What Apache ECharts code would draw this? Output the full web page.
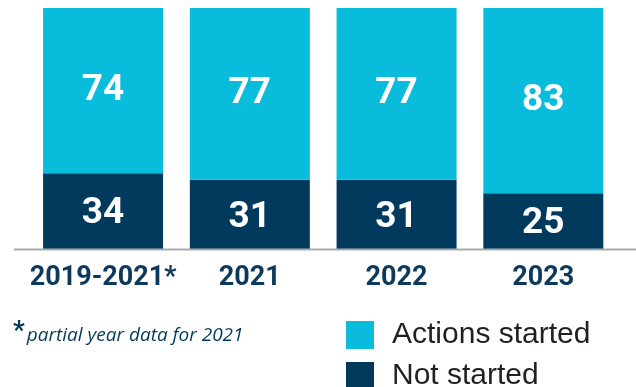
<!DOCTYPE html>
<html>
<head>
<meta charset="utf-8">
<script src="https://cdn.jsdelivr.net/npm/echarts@6/dist/echarts.min.js"></script>
<style>
  html, body { margin: 0; padding: 0; background: #ffffff; }
  #chart { width: 636px; height: 387px; }
</style>
</head>
<body>
<div id="chart"></div>
<script>
// Action status by reporting period
const categories = ['2019-2021*', '2021', '2022', '2023'];
const notStarted = [34, 31, 31, 25];
const actionsStarted = [74, 77, 77, 83];
const seriesNames = ['Actions started', 'Not started'];
const footnote = 'partial year data for 2021';

const CYAN = '#09bcdc';
const NAVY = '#013a5c';

const chart = echarts.init(document.getElementById('chart'), null, { renderer: 'canvas' });

function valueLabel(dy) {
  return {
    show: true,
    position: 'inside',
    offset: [0, dy],
    color: '#ffffff',
    fontFamily: 'Roboto',
    fontWeight: 'bold',
    fontSize: 37
  };
}

chart.setOption({
  animation: false,
  backgroundColor: '#ffffff',
  grid: { left: 29.7, width: 587, top: 8, height: 241, containLabel: false },
  xAxis: {
    type: 'category',
    data: categories,
    axisLine: { show: false },
    axisTick: { show: false },
    axisLabel: {
      interval: 0,
      color: '#0d3a5c',
      fontFamily: 'Roboto',
      fontWeight: 'bold',
      fontSize: 27,
      margin: 16
    }
  },
  yAxis: {
    type: 'value',
    min: 0,
    max: 108,
    show: false,
    splitLine: { show: false }
  },
  legend: {
    orient: 'vertical',
    left: 346,
    top: 320,
    height: 120,
    padding: 0,
    itemWidth: 28,
    itemHeight: 28,
    itemGap: 11,
    icon: 'rect',
    data: seriesNames,
    textStyle: {
      color: '#231f20',
      fontFamily: 'Liberation Sans',
      fontSize: 30,
      padding: [0, 0, 0, 13]
    }
  },
  title: {
    left: 13,
    top: 319,
    padding: 0,
    text: '{a|*}{b|' + footnote + '}',
    textStyle: {
      rich: {
        a: { color: NAVY, fontFamily: 'Roboto', fontWeight: 'bold', fontSize: 26, verticalAlign: 'top' },
        b: { color: NAVY, fontFamily: 'Open Sans', fontStyle: 'italic', fontWeight: 'normal', fontSize: 19, padding: [7, 0, 0, 2] }
      }
    }
  },
  graphic: [{
    type: 'line',
    shape: { x1: 14, y1: 249.5, x2: 636, y2: 249.5 },
    style: { stroke: '#a9abae', lineWidth: 2 },
    z: 10
  }],
  series: [
    {
      name: 'Not started',
      type: 'bar',
      stack: 'total',
      barWidth: 120,
      data: notStarted,
      itemStyle: { color: NAVY },
      label: valueLabel(3)
    },
    {
      name: 'Actions started',
      type: 'bar',
      stack: 'total',
      barWidth: 120,
      data: actionsStarted,
      itemStyle: { color: CYAN },
      label: valueLabel(0)
    }
  ]
});
</script>
</body>
</html>
